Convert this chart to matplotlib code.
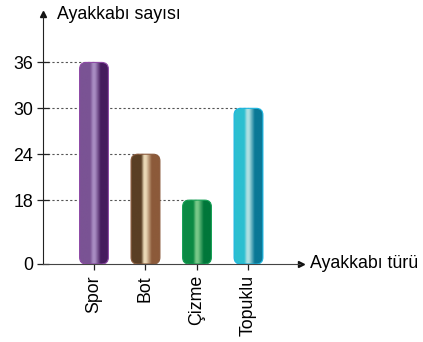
import numpy as np
import matplotlib
matplotlib.use('Agg')
from matplotlib import pyplot as plt
from matplotlib.patches import FancyBboxPatch
from matplotlib.colors import LinearSegmentedColormap

plt.rcParams['font.family'] = ['Liberation Sans', 'DejaVu Sans']

categories = ['Spor', 'Bot', 'Çizme', 'Topuklu']
values = [36, 24, 18, 30]
yticks = [18, 24, 30, 36]
# gradient colours per bar: left edge, highlight, right edge, outline
shades = [
    ['#7a5394', '#a88cc2', '#461c5e', '#8e4aa6'],
    ['#5a3f24', '#ead8b6', '#8c5a3a', '#8a5a3c'],
    ['#0b8a44', '#78c888', '#00773a', '#16a055'],
    ['#2cbfd0', '#aee0e2', '#0a7896', '#1bb5e0'],
]

ybot = 9.65   # broken axis: baseline is drawn as 0
ytop = 42.2
fs = 12.8

fig = plt.figure(figsize=(4.23, 3.42), dpi=100)
ax = fig.add_axes([43/423, 78/342, 257/423, 249/342])
ax.set_xlim(-0.99, 4.0)
ax.set_ylim(ybot, ytop)

x = np.arange(len(categories))
w = 0.56

# dotted guide lines from axis to bar
for xi, v in zip(x, values):
    ax.plot([-0.99, xi], [v, v], ls=(0, (2, 2)), color='#555555', lw=0.8, zorder=1)

for xi, v, c in zip(x, values, shades):
    patch = FancyBboxPatch((xi - w/2, ybot), w, v - ybot,
                           boxstyle='round,pad=0,rounding_size=0.13',
                           mutation_aspect=6.7, facecolor='none',
                           edgecolor=c[3], lw=0.8, zorder=3)
    ax.add_patch(patch)
    cmap = LinearSegmentedColormap.from_list('g', [(0, c[0]), (0.35, c[0]), (0.45, c[1]), (0.52, c[1]),
                                                   (0.72, c[2]), (1, c[2])])
    grad = np.linspace(0, 1, 100).reshape(1, -1)
    im = ax.imshow(grad, cmap=cmap, aspect='auto', extent=[xi - w/2, xi + w/2, ybot, v],
                   zorder=2, interpolation='bilinear')
    im.set_clip_path(patch)

ax.set_xlim(-0.99, 4.0)
ax.set_ylim(ybot, ytop)

for s in ['top', 'right']:
    ax.spines[s].set_visible(False)
ax.spines['left'].set_color('#222222')
ax.spines['bottom'].set_color('#444444')
ax.spines['left'].set_zorder(5)
ax.spines['bottom'].set_zorder(5)

ax.set_yticks([ybot] + yticks)
ax.set_yticklabels(['0'] + [str(t) for t in yticks], fontsize=fs)
ax.tick_params(axis='y', direction='inout', length=8, width=0.9, color='#222222', pad=3)
ax.set_xticks(x)
ax.set_xticklabels(categories, rotation=90, fontsize=fs)
ax.tick_params(axis='x', direction='inout', length=8, width=0.9, color='#222222', pad=4)

# axis arrows
ax.plot(0, 1.005, marker='^', color='#111111', ms=5, transform=ax.transAxes, clip_on=False)
ax.plot(1.005, 0, marker='>', color='#111111', ms=5, transform=ax.transAxes, clip_on=False)
ax.text(0.055, 1.0, 'Ayakkabı sayısı', transform=ax.transAxes, fontsize=fs, va='center', ha='left')
ax.text(1.04, 0, 'Ayakkabı türü', transform=ax.transAxes, fontsize=fs, va='center', ha='left')

plt.savefig('out.png', dpi=100)
